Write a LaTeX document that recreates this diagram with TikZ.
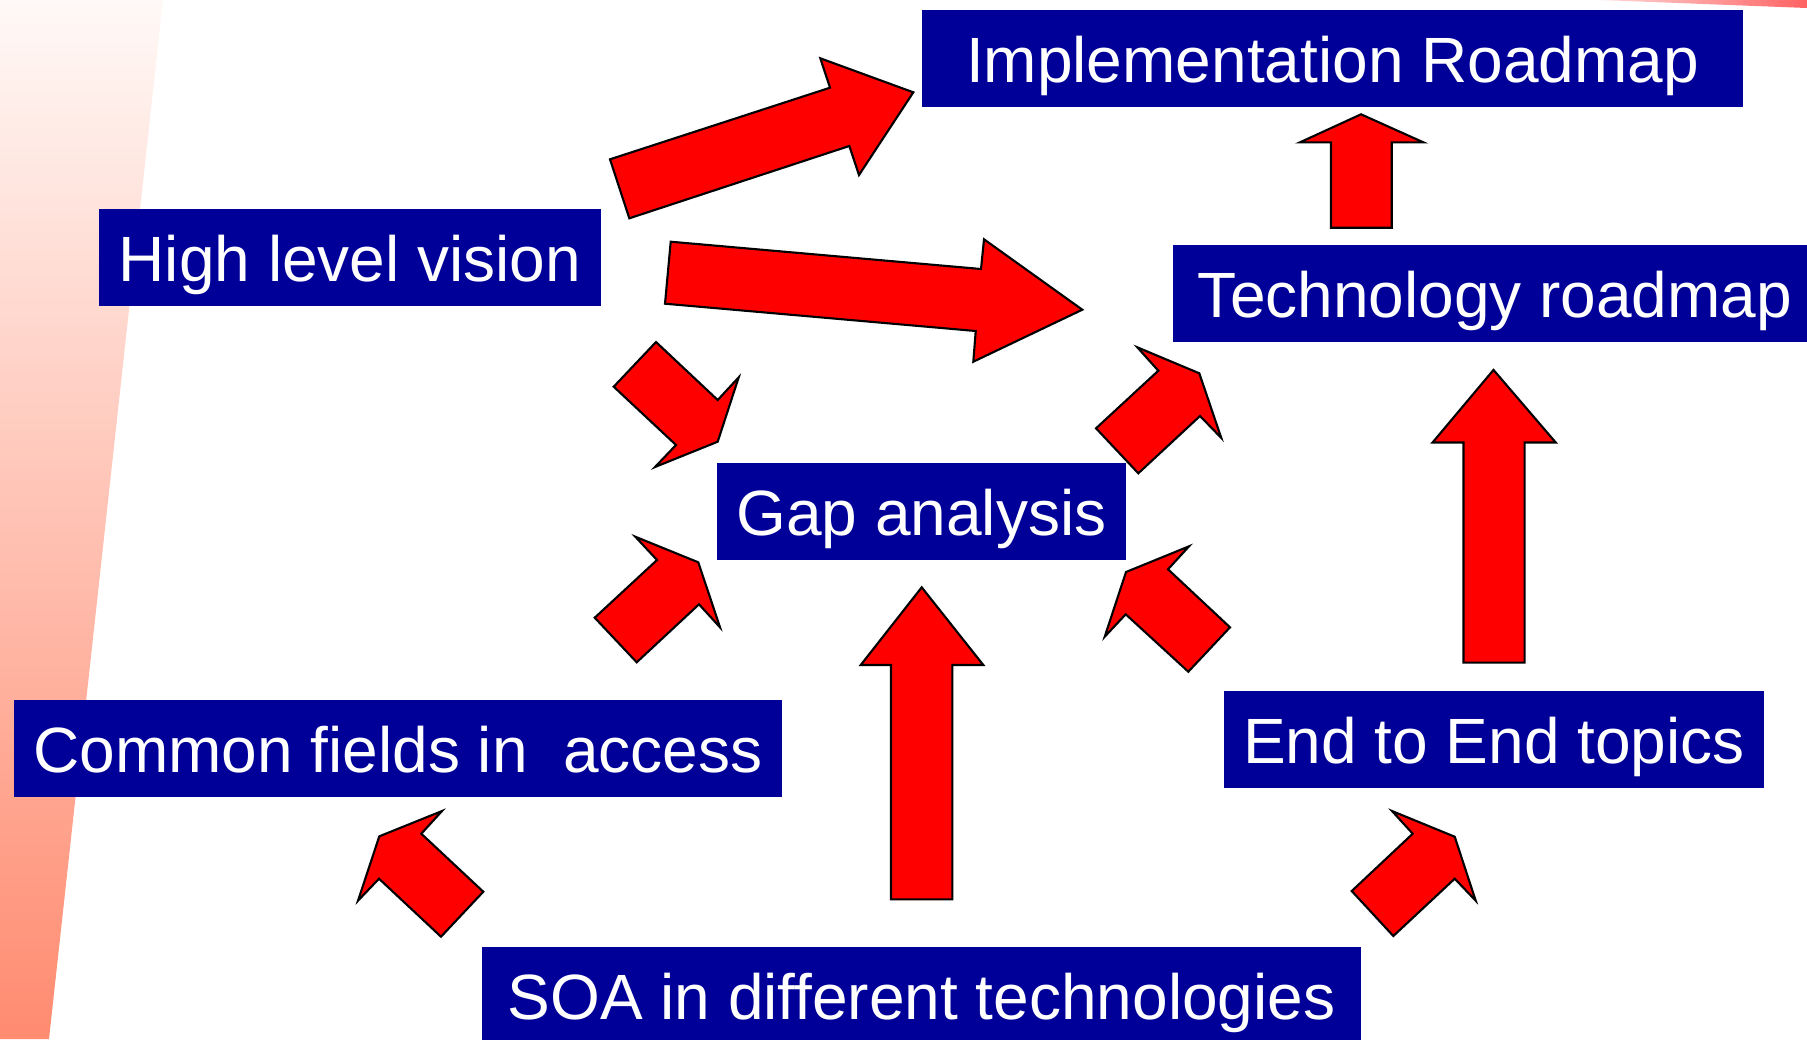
\documentclass[tikz,border=0pt]{standalone}
\usepackage{fontspec}
\setmainfont{Liberation Sans}
\usetikzlibrary{positioning}
\definecolor{boxblue}{HTML}{000099}
\definecolor{arrowred}{HTML}{FF0000}
\definecolor{wedgetop}{HTML}{FFF9F7}
\definecolor{wedgebottom}{HTML}{FF8B70}
\definecolor{stripe}{HTML}{FF6262}
\tikzset{
  topic/.style={fill=boxblue, text=white, inner xsep=0pt, inner ysep=0pt,
    text height=0.72cm, text depth=0.24cm, minimum height=0.96cm,
    font=\fontsize{18.2pt}{21pt}\selectfont},
  blockarrow/.style={fill=arrowred, draw=black, line width=0.6pt, line join=miter}
}
\begin{document}
\begin{tikzpicture}[x=0.01cm, y=-0.01cm]
         \useasboundingbox (0,0) rectangle (1807,1039);
         \shade[top color=wedgetop, bottom color=wedgebottom] (0,0) -- (163,0) -- (49,1039) -- (0,1039) -- cycle;
         \shade[left color=stripe!25, right color=stripe] (1600,0) -- (1807,0) -- (1807,8) -- cycle;
         \node[topic, minimum width=8.21cm] (roadmap) at (1332.5,58.5) {Implementation Roadmap};
         \node[topic, minimum width=5.02cm] (vision) at (350,257.5) {High level vision};
         \node[topic, minimum width=6.43cm] (techmap) at (1495,293.5) {Technology roadmap};
         \node[topic, minimum width=4.09cm] (gap) at (921.5,511.5) {Gap analysis};
         \node[topic, minimum width=7.68cm] (common) at (398,748.5) {Common fields in \ access};
         \node[topic, minimum width=5.40cm] (endtoend) at (1494,739.5) {End to End topics};
         \node[topic, minimum width=8.79cm] (soa) at (921.5,995) {SOA in different technologies};
         \draw[blockarrow] (610,159.3) -- (830,87.7) -- (820.3,58.3) -- (913.3,92.3) -- (859,175) -- (849.3,146) -- (629.3,218.3) -- cycle;
         \draw[blockarrow] (670.7,241.7) -- (981,269) -- (984,239.3) -- (1082.3,309.7) -- (973.3,361.7) -- (975.7,331) -- (665,303.7) -- cycle;
         \draw[blockarrow] (656,342) -- (717.7,400) -- (738.7,377.3) -- (717.7,441.7) -- (655,467) -- (676,445) -- (613.7,386.7) -- cycle;
         \draw[blockarrow] (1096,428.3) -- (1158.3,370.7) -- (1137.3,347.3) -- (1199.3,373.3) -- (1221.3,438) -- (1200,416) -- (1138.3,473.3) -- cycle;
         \draw[blockarrow] (594.7,617.7) -- (657,560) -- (635.3,536.7) -- (698.3,562.3) -- (720,627.3) -- (699,604.3) -- (636.7,662.3) -- cycle;
         \draw[blockarrow] (1230,627.3) -- (1168,569.3) -- (1189,546.3) -- (1126,572) -- (1104.7,636.7) -- (1125.7,614.3) -- (1188.3,671.7) -- cycle;
         \draw[blockarrow] (483.3,891.7) -- (421.3,833.7) -- (442,811) -- (379.3,836.3) -- (358,900.7) -- (379,878.7) -- (441,936.7) -- cycle;
         \draw[blockarrow] (1351.7,891) -- (1412.7,833.7) -- (1392,811) -- (1454.7,836.7) -- (1475.7,900.7) -- (1454.7,878.7) -- (1393.3,936) -- cycle;
         \draw[blockarrow] (1331,227.7) -- (1331,142.3) -- (1300,142.3) -- (1361,114.3) -- (1423.3,142.3) -- (1391.7,142.3) -- (1391.7,227.7) -- cycle;
         \draw[blockarrow] (891,899.3) -- (891,665) -- (860.7,665) -- (921.7,587.3) -- (983.3,665) -- (952.3,665) -- (952.3,899.3) -- cycle;
         \draw[blockarrow] (1463.5,662.6) -- (1463.5,442.5) -- (1432.5,442.5) -- (1493.5,369.9) -- (1555.7,442.5) -- (1524.6,442.5) -- (1524.6,662.6) -- cycle;
        \end{tikzpicture}
\end{document}
